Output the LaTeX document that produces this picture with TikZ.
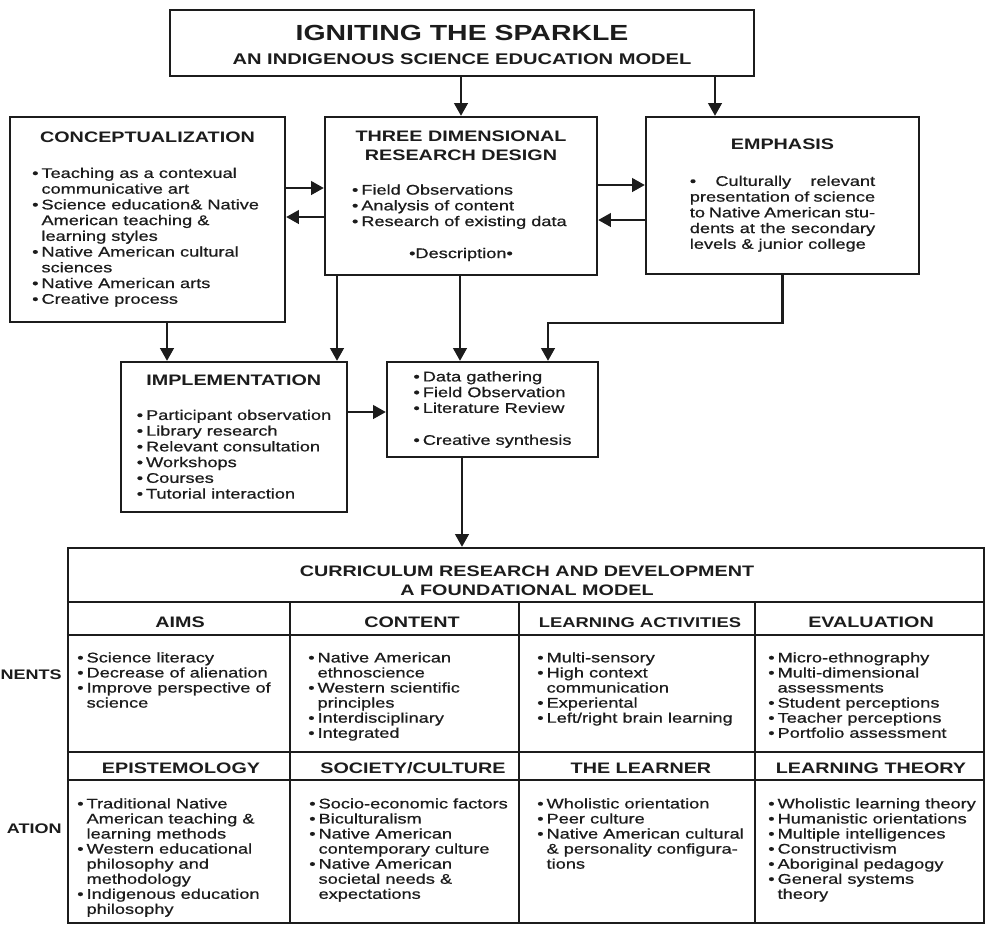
\documentclass[tikz,border=0pt]{standalone}
\usepackage{fontspec}
\setmainfont{Liberation Sans}[FakeStretch=1.3, UprightFeatures={FakeBold=0.7}]
\usepackage{tikz}
\usetikzlibrary{arrows.meta}
\definecolor{encre}{HTML}{1C1C1C}
\newcommand{\titrefont}{\fontsize{16.4}{19.5}\selectfont\bfseries}
\newcommand{\soustitrefont}{\fontsize{11.6}{14}\selectfont\bfseries}
\newcommand{\entetefont}{\fontsize{11.4}{14.25}\selectfont\bfseries}
\newcommand{\corpsfont}{\fontsize{10.5}{11.8}\selectfont}
\newcommand{\cellfont}{\fontsize{10.5}{11.3}\selectfont}
\newcommand{\puce}{\makebox[7pt][l]{\textbullet}}
\newcommand{\suite}{\hspace*{7pt}}
\tikzset{
  boite/.style={rectangle, draw=encre, line width=1.7pt, fill=white, text=encre,
    font=\corpsfont, align=left, inner sep=0pt},
  fleche/.style={-{Triangle[length=9.5pt, width=10pt]}, line width=2pt, color=encre},
  trait/.style={line width=1.6pt, color=encre},
  cellule/.style={font=\cellfont, text=encre, align=left, inner sep=0pt, anchor=north west},
  titrecol/.style={font=\entetefont, text=encre, inner sep=0pt, anchor=base},
  marge/.style={font=\fontsize{10.4}{12}\selectfont\bfseries, text=encre, inner sep=0pt, anchor=base east}
}
\begin{document}
\begin{tikzpicture}[x=0.75pt, y=-0.75pt]
  \fill[white] (0,0) rectangle (988,926);
  \useasboundingbox (0,0) rectangle (988,926);

  \node[boite, font=\soustitrefont, align=center, minimum width=438pt, minimum height=49.5pt] (titre) at (462,43)
    {{\titrefont\rule{0pt}{15pt}IGNITING THE SPARKLE}\\[4pt]AN INDIGENOUS SCIENCE EDUCATION MODEL};

  \node[boite, minimum width=206.25pt, minimum height=153.75pt] (concept) at (147.5,219.5)
    {\makebox[173pt]{\entetefont CONCEPTUALIZATION}\\[14.45pt]
     \puce Teaching as a contexual\\
     \suite communicative art\\
     \puce Science education\& Native\\
     \suite American teaching \&\\
     \suite learning styles\\
     \puce Native American cultural\\
     \suite sciences\\
     \puce Native American arts\\
     \puce Creative process};

  \node[boite, minimum width=204pt, minimum height=118.5pt] (tdd) at (461,196)
    {\makebox[163.5pt]{\entetefont THREE DIMENSIONAL}\\[2.45pt]
     \makebox[163.5pt]{\entetefont RESEARCH DESIGN}\\[13.7pt]
     \puce Field Observations\\
     \puce Analysis of content\\
     \puce Research of existing data\\[12.2pt]
     \makebox[163.5pt]{\textbullet Description\textbullet}};

  \node[boite, minimum width=204.75pt, minimum height=117.75pt] (emph) at (782.5,195.5)
    {\makebox[139pt]{\entetefont EMPHASIS}\\[15.2pt]
     \makebox[139pt][s]{\textbullet\ Culturally relevant}\\
     \makebox[139pt][s]{presentation of science}\\
     \makebox[139pt][s]{to Native American stu-}\\
     \makebox[139pt][s]{dents at the secondary}\\
     levels \& junior college};

  \node[boite, minimum width=169.5pt, minimum height=112.5pt] (impl) at (234,437)
    {\makebox[145.5pt]{\entetefont IMPLEMENTATION}\\[13.7pt]
     \puce Participant observation\\
     \puce Library research\\
     \puce Relevant consultation\\
     \puce Workshops\\
     \puce Courses\\
     \puce Tutorial interaction};

  \node[boite, minimum width=158.25pt, minimum height=71.25pt] (donnees) at (492.5,409.5)
    {\puce Data gathering\\
     \puce Field Observation\\
     \puce Literature Review\\[12.2pt]
     \puce Creative synthesis};

  \node[boite, minimum width=687pt, minimum height=281.25pt] (modele) at (526,735.5) {};
  \draw[trait] (modele.west |- 0,602) -- (modele.east |- 0,602);
  \draw[trait] (modele.west |- 0,635) -- (modele.east |- 0,635);
  \draw[trait] (modele.west |- 0,752) -- (modele.east |- 0,752);
  \draw[trait] (modele.west |- 0,780) -- (modele.east |- 0,780);
  \draw[trait] (290,602) -- (modele.south -| 290,0);
  \draw[trait] (519,602) -- (modele.south -| 519,0);
  \draw[trait] (755,602) -- (modele.south -| 755,0);

  \node[font=\entetefont, text=encre, align=center, inner sep=0pt, anchor=north] (modeletitre) at (527,565.5)
    {CURRICULUM RESEARCH AND DEVELOPMENT\\A FOUNDATIONAL MODEL};

  \node[titrecol] (aims) at (180,627) {AIMS};
  \node[titrecol] (contenu) at (412,627) {CONTENT};
  \node[titrecol, font=\fontsize{10.6}{13}\selectfont\bfseries] (activites) at (640,627) {LEARNING ACTIVITIES};
  \node[titrecol] (evaluation) at (871,627) {EVALUATION};
  \node[titrecol] (episteme) at (181,773) {EPISTEMOLOGY};
  \node[titrecol] (societe) at (413,773) {SOCIETY/CULTURE};
  \node[titrecol] (apprenant) at (641,773) {THE LEARNER};
  \node[titrecol] (theorie) at (871,773) {LEARNING THEORY};

  \node[cellule] (aimstxt) at (77,652)
    {\puce Science literacy\\
     \puce Decrease of alienation\\
     \puce Improve perspective of\\
     \suite science};
  \node[cellule] (contenutxt) at (308,652)
    {\puce Native American\\
     \suite ethnoscience\\
     \puce Western scientific\\
     \suite principles\\
     \puce Interdisciplinary\\
     \puce Integrated};
  \node[cellule] (activitestxt) at (537,652)
    {\puce Multi-sensory\\
     \puce High context\\
     \suite communication\\
     \puce Experiental\\
     \puce Left/right brain learning};
  \node[cellule] (evaluationtxt) at (768,652)
    {\puce Micro-ethnography\\
     \puce Multi-dimensional\\
     \suite assessments\\
     \puce Student perceptions\\
     \puce Teacher perceptions\\
     \puce Portfolio assessment};
  \node[cellule] (epistemetxt) at (77,798)
    {\puce Traditional Native\\
     \suite American teaching \&\\
     \suite learning methods\\
     \puce Western educational\\
     \suite philosophy and\\
     \suite methodology\\
     \puce Indigenous education\\
     \suite philosophy};
  \node[cellule] (societetxt) at (309,798)
    {\puce Socio-economic factors\\
     \puce Biculturalism\\
     \puce Native American\\
     \suite contemporary culture\\
     \puce Native American\\
     \suite societal needs \&\\
     \suite expectations};
  \node[cellule] (apprenanttxt) at (537,798)
    {\puce Wholistic orientation\\
     \puce Peer culture\\
     \puce Native American cultural\\
     \suite \& personality configura-\\
     \suite tions};
  \node[cellule] (theorietxt) at (768,798)
    {\puce Wholistic learning theory\\
     \puce Humanistic orientations\\
     \puce Multiple intelligences\\
     \puce Constructivism\\
     \puce Aboriginal pedagogy\\
     \puce General systems\\
     \suite theory};

  \node[marge] (composantes) at (62,679) {NENTS};
  \node[marge] (fondations) at (62,833) {ATION};

  \coordinate (coude) at (548,323);
  \draw[fleche] (titre.south -| tdd.north) -- (tdd.north);
  \draw[fleche] (titre.south -| 715,0) -- (emph.north -| 715,0);
  \draw[fleche] (concept.east |- 0,188) -- (tdd.west |- 0,188);
  \draw[fleche] (tdd.west |- 0,217) -- (concept.east |- 0,217);
  \draw[fleche] (tdd.east |- 0,185) -- (emph.west |- 0,185);
  \draw[fleche] (emph.west |- 0,220) -- (tdd.east |- 0,220);
  \draw[fleche] (concept.south -| 167,0) -- (impl.north -| 167,0);
  \draw[fleche] (tdd.south -| 337,0) -- (impl.north -| 337,0);
  \draw[fleche] (tdd.south -| 460,0) -- (donnees.north -| 460,0);
  \draw[fleche] (emph.south) |- (coude) -- (donnees.north -| coude);
  \draw[fleche] (impl.east |- 0,412) -- (donnees.west |- 0,412);
  \draw[fleche] (donnees.south -| 462,0) -- (modele.north -| 462,0);
\end{tikzpicture}
\end{document}
